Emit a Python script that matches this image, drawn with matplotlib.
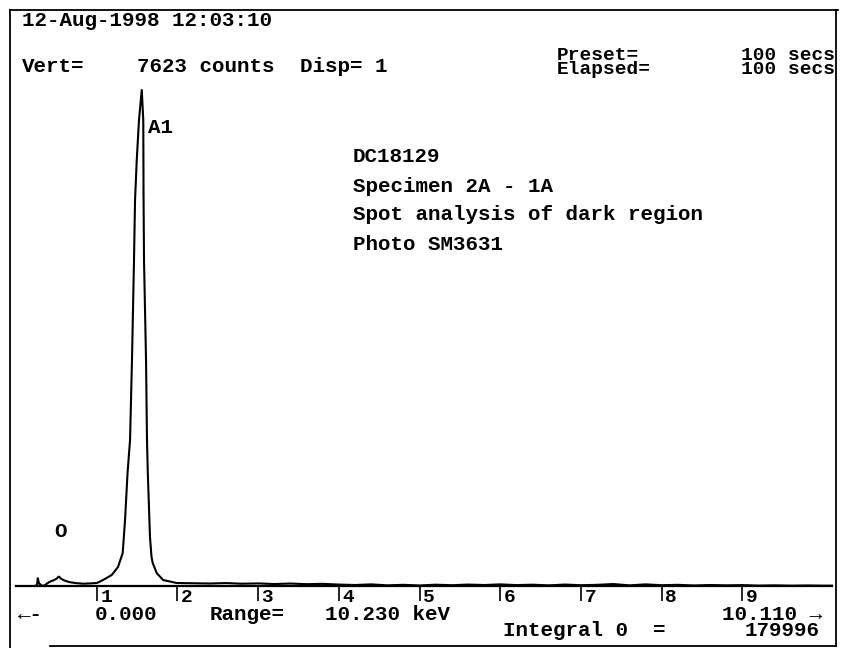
import matplotlib
matplotlib.use("Agg")
import matplotlib.pyplot as plt
from matplotlib.transforms import ScaledTranslation

# spectrum (energy in keV, counts)
energy = [0.23, 0.26, 0.27, 0.285, 0.33, 0.36, 0.41, 0.46, 0.50, 0.53, 0.56,
          0.60, 0.66, 0.74, 0.83, 0.92, 1.004, 1.078, 1.186, 1.264, 1.322,
          1.351, 1.382, 1.413, 1.437, 1.462, 1.475, 1.496, 1.524, 1.558,
          1.577, 1.580, 1.586, 1.611, 1.623, 1.633, 1.660, 1.679, 1.694,
          1.743, 1.822, 1.991, 2.2, 2.4, 2.6, 2.8, 3.0, 3.2, 3.4, 3.6, 3.8,
          4.0, 4.2, 4.4, 4.6, 4.8, 5.0, 5.2, 5.4, 5.6, 5.8, 6.0, 6.2, 6.4,
          6.6, 6.8, 7.0, 7.2, 7.4, 7.6, 7.8, 8.0, 8.2, 8.4, 8.6, 8.8, 9.0,
          9.2, 9.4, 9.6, 9.8, 10.0, 10.11]
counts = [0, 15, 120, 40, 0, 15, 60, 85, 110, 145, 110,
          85, 60, 45, 35, 40, 46, 92, 169, 292, 507,
          1014, 1737, 2244, 3474, 5011, 5933, 6548, 7162, 7623,
          7162, 6040, 5011, 3474, 2244, 1737, 753, 446, 353,
          200, 92, 46, 42, 38, 45, 35, 40, 30, 38, 28, 33,
          22, 15, 25, 10, 18, 8, 20, 12, 22, 15, 25, 14, 20,
          10, 22, 12, 18, 30, 10, 25, 12, 18, 8, 15, 10, 14,
          6, 10, 5, 8, 5, 5]

tick_kev = [1, 2, 3, 4, 5, 6, 7, 8, 9]
tick_labels = ["1", "2", "3", "4", "5", "6", "7", "8", "9"]

x_max = 10.11
vert_full = 7623

peak_names = ["A1", "O"]
peak_pos = [(1.64, 7040), (0.557, 830)]

W, H = 841, 648
fig = plt.figure(figsize=(W / 100, H / 100), dpi=100)
font = "Liberation Mono"
fs = 15
fw = "bold"

# overlay in pixel coords for the frame and the header/footer text
ov = fig.add_axes([0, 0, 1, 1])
ov.set_xlim(0, W)
ov.set_ylim(H, 0)
ov.axis("off")
lw = 1.3
ov.plot([10, 10], [10, 648], color="black", lw=lw)
ov.plot([10, 838], [10, 10], color="black", lw=lw)
ov.plot([836, 836], [10, 646], color="black", lw=lw)
ov.plot([50, 836], [646, 646], color="black", lw=lw)

def txt(x, y, s, ha="left", size=fs):
    ov.text(x, y, s, ha=ha, va="center", fontsize=size, family=font,
            fontweight=fw, color="black")

txt(22, 21, "12-Aug-1998 12:03:10")
txt(22, 67, "Vert=")
txt(137, 67, "7623 counts")
txt(300, 67, "Disp= 1")
txt(557, 56, "Preset=", size=14)
txt(557, 69, "Elapsed=", size=14)
txt(835, 56, "100 secs", ha="right", size=14)
txt(835, 69, "100 secs", ha="right", size=14)

txt(353, 156, "DC18129")
txt(353, 186, "Specimen 2A - 1A")
txt(353, 215, "Spot analysis of dark region")
txt(353, 244, "Photo SM3631")

txt(18, 615, "\u2190-")
txt(95, 614, "0.000")
txt(210, 614, "Range=")
txt(325, 614, "10.230 keV")
txt(822, 614, "10.110 \u2192", ha="right")
txt(503, 631, "Integral 0  =")
txt(820, 631, "179996", ha="right")

# spectrum axes
ax = fig.add_axes([16 / W, 1 - 586 / H, (832 - 16) / W, (586 - 90) / H])
ax.patch.set_alpha(0)
ax.plot(energy, counts, color="black", lw=1.5, clip_on=False)
ax.set_xlim(0, x_max)
ax.set_ylim(0, vert_full)
for s in ["left", "right", "top"]:
    ax.spines[s].set_visible(False)
ax.spines["bottom"].set_linewidth(1.6)
ax.set_yticks([])
ax.set_xticks(tick_kev)
ax.set_xticklabels(tick_labels, fontsize=14, family=font, fontweight=fw)
ax.tick_params(axis="x", direction="out", length=11, width=1.2, pad=-9)
off = ScaledTranslation(0.035, 0, fig.dpi_scale_trans)
for lab in ax.get_xticklabels():
    lab.set_ha("left")
    lab.set_transform(lab.get_transform() + off)

for name, (e, c) in zip(peak_names, peak_pos):
    ax.text(e, c, name, ha="left" if name == "A1" else "center", va="center",
            fontsize=fs, family=font, fontweight=fw)

fig.savefig("out.png", dpi=100)
